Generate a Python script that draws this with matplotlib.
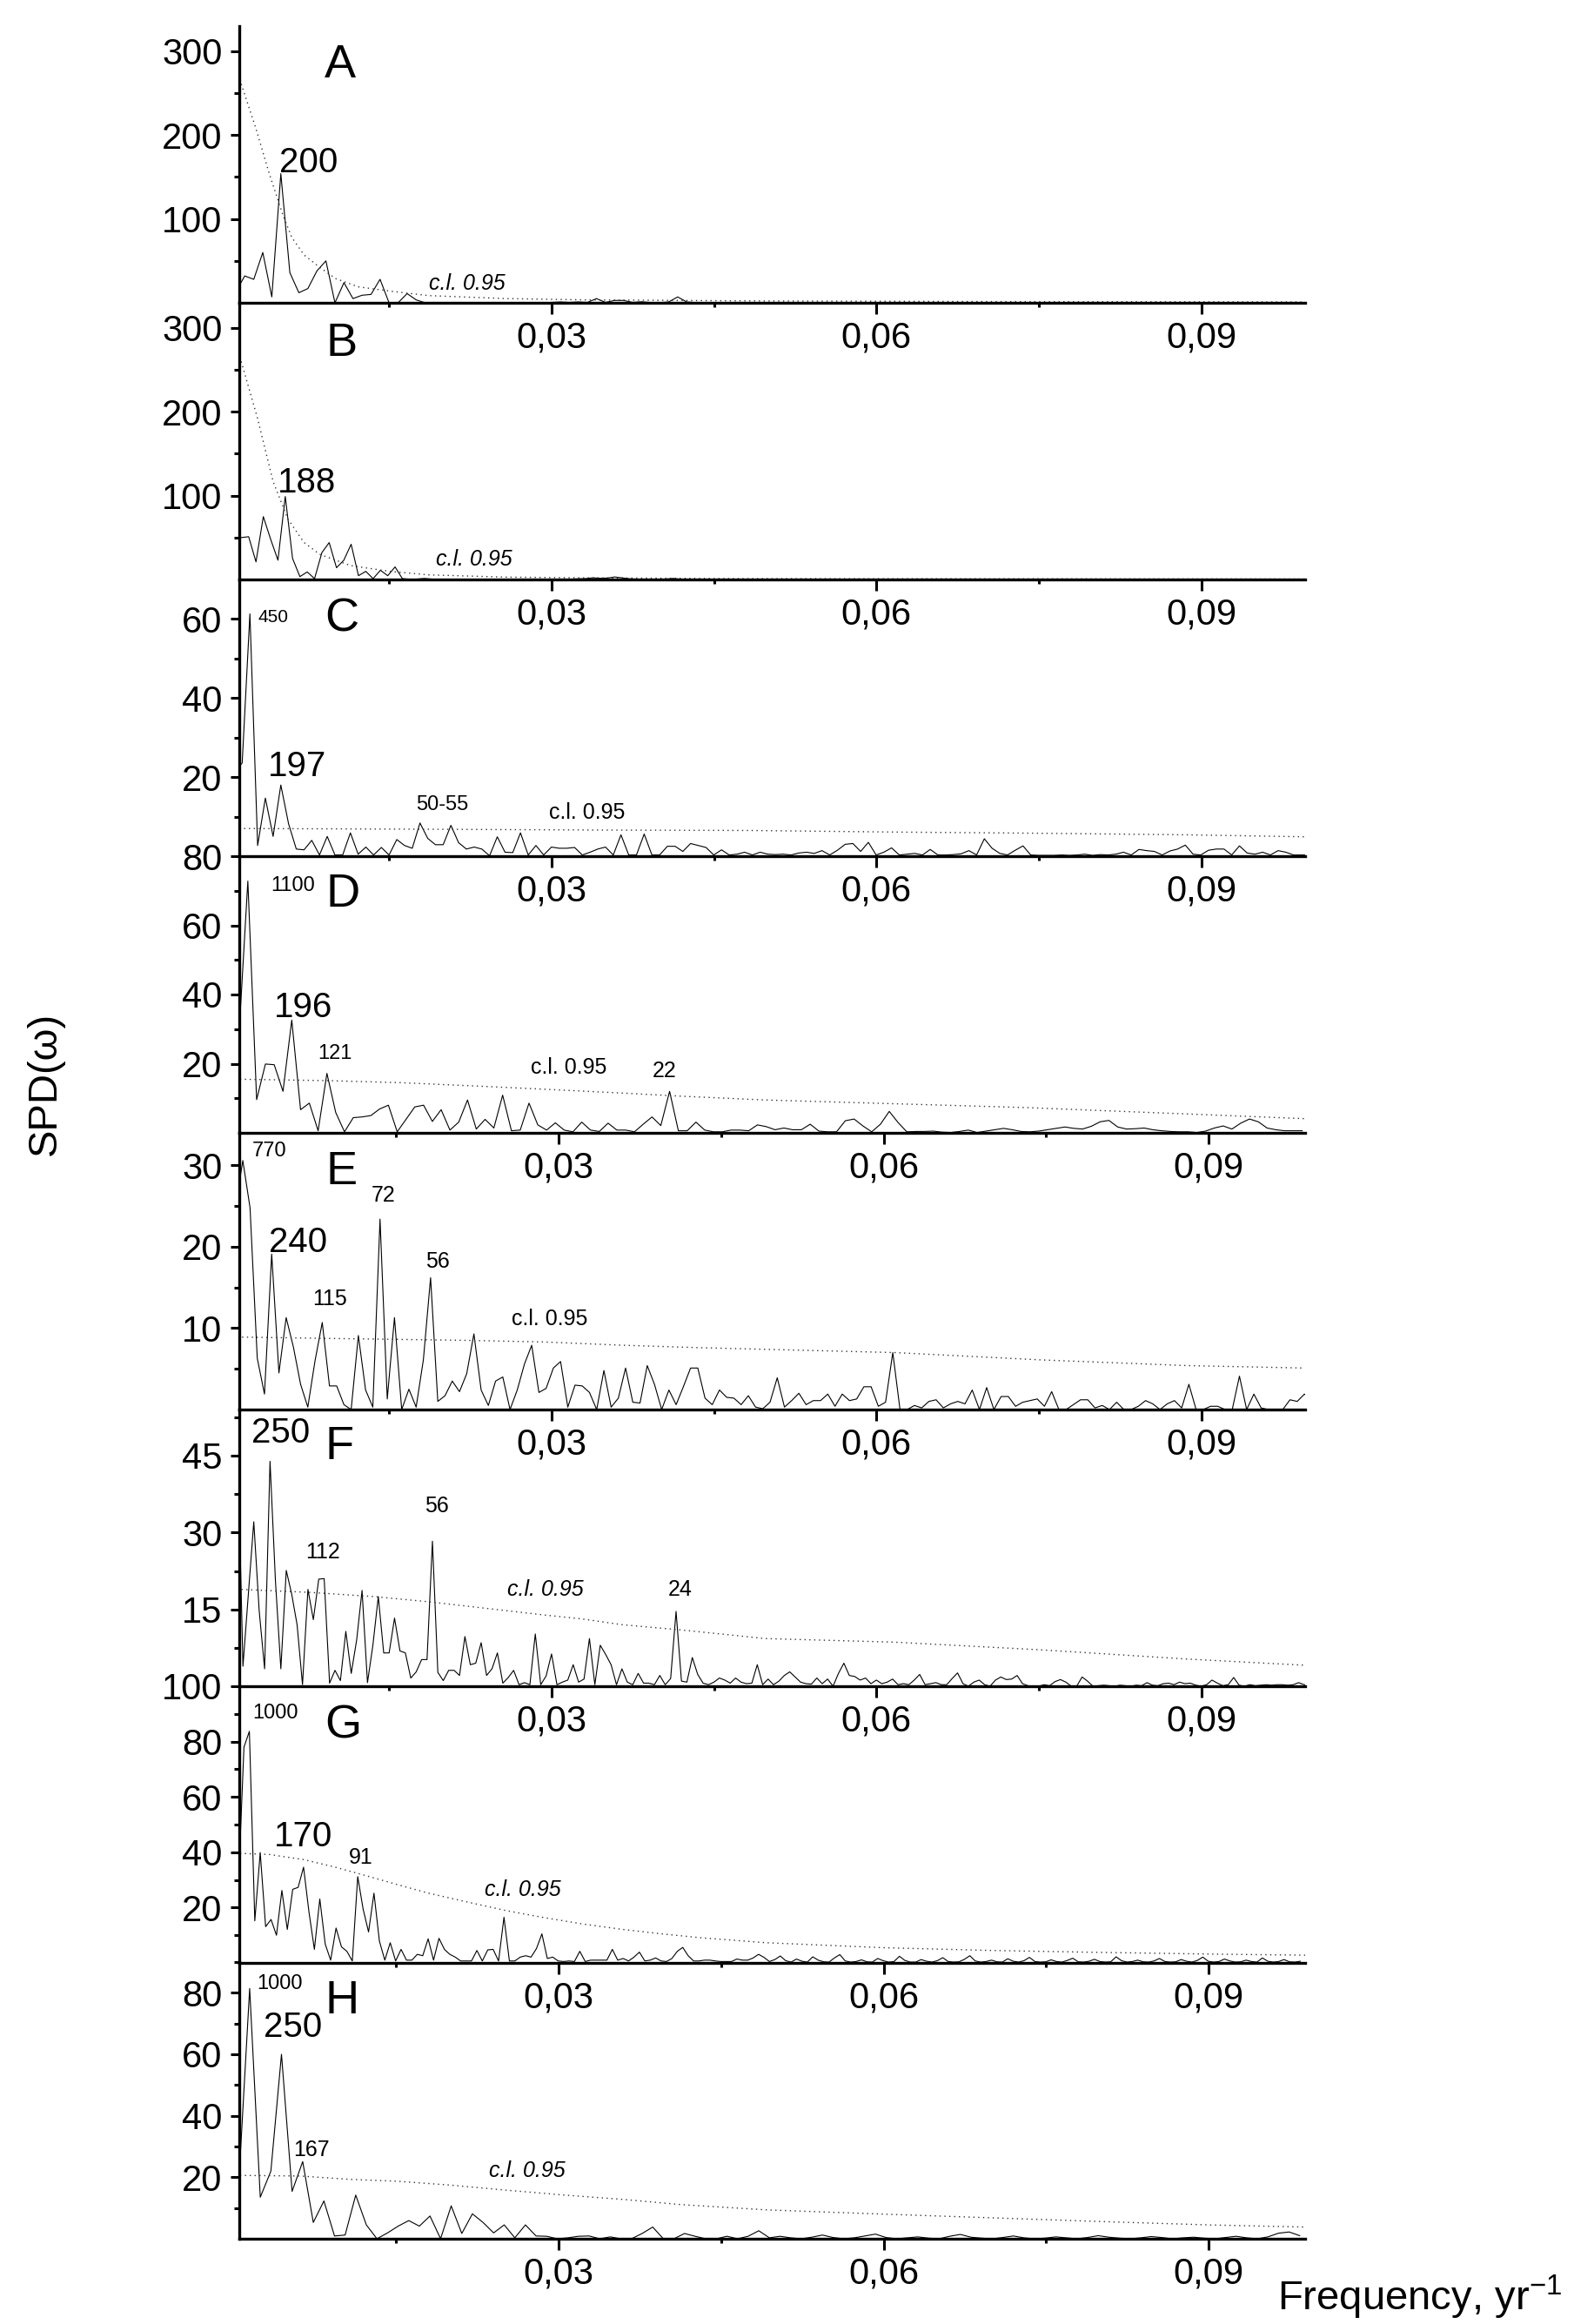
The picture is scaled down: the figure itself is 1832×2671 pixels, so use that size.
import numpy as np
import matplotlib
matplotlib.use("Agg")
import matplotlib.pyplot as plt

plt.rcParams["font.family"] = ["Liberation Sans", "DejaVu Sans"]
plt.rcParams["mathtext.fontset"] = "custom"
plt.rcParams["mathtext.rm"] = "Liberation Sans"

# spectral density of each series, evenly spaced in frequency (yr^-1)
spd_a = [13, 32, 28, 60, 7, 154, 36, 12, 17, 38, 50, 0, 24, 5, 9, 10, 28, 0, 0, 11,
         3.5, 0, 0.5, 0.3, 0.5, 0.3, 0.2, 0.3, 0.2, 0.3, 0.2, 0.3, 0.2, 0.3, 0.2, 0.5,
         1, 0.5, 1, 0.5, 5, 0.5, 2.8, 2.8, 0.5, 1.2, 0.3, 0.2, 1, 7, 1, 0.3, 0.2, 0.3,
         0.2, 0.3, 0.2, 0.3, 0.2, 0.3]
spd_b = [50, 50, 51, 21, 75, 48, 23, 99, 25, 3.4, 9, 1, 32, 44, 14, 23, 42, 4.5, 9.7, 1,
         11, 4.5, 15, 1, 0.3, 0.5, 1.2, 0.5, 0.2, 0.3, 0.2, 0.3, 0.2, 0.2, 0.3, 0.2, 0.2,
         0.3, 0.2, 0.2, 0.3, 0.2, 0.2, 0.3, 0.2, 0.5, 0.4, 0.8, 1, 2, 1.5, 1.7, 3, 2, 0.8,
         0.5, 0.3, 0.2, 0.3, 0.5, 1.2, 0.4, 0.2, 0.2, 0.3, 0.2, 0.2, 0.1, 0.2, 0.1]
spd_c = [21, 23.6, 61.3, 2.7, 14.7, 5, 18, 8.2, 1.8, 1.6, 4, 0.3, 5, 0.3, 0.3, 5.9, 0.5,
         2.3, 0.3, 2.2, 0.3, 4.2, 2.7, 2, 8.4, 4.5, 2.9, 2.9, 7.8, 3.4, 1.8, 2.3, 1.8, 0.1,
         4.9, 1, 0.9, 5.9, 0.3, 2.7, 0.3, 2.3, 2, 2, 2.2, 0.3, 1, 1.8, 2.3, 0.3, 5.4, 0.3,
         0.3, 5.6, 0.3, 0.3, 2.5, 2.5, 1.2, 3.2, 2.7, 2.2, 0.3, 1.6, 0.3, 0.5, 1, 0.3, 1,
         0.5, 0.4, 0.5, 0.3, 0.8, 1, 0.7, 1.4, 0.3, 1.5, 3, 3.2, 1.2, 3.5, 0.3, 1, 2.1,
         0.3, 0.5, 0.7, 0.3, 1.7, 0.3, 0.3, 0.4, 0.6, 1.4, 0.3, 4.4, 2, 0.7, 0.3, 1.5,
         2.6, 0.3, 0.2, 0.2, 0.2, 0.3, 0.2, 0.3, 0.5, 0.2, 0.4, 0.3, 0.5, 1, 0.3, 1.7,
         1.4, 1.2, 0.3, 1.3, 1.8, 2.8, 0.5, 0.3, 1.5, 1.8, 1.8, 0.3, 2.6, 0.8, 0.5, 1,
         0.3, 1.4, 1, 0.3, 0.3, 0.3]
spd_d = [28.9, 72.8, 9.6, 19.9, 19.7, 12, 32.6, 6.7, 8.6, 0.6, 17.2, 5.9, 0.3, 4.4, 4.6,
         5, 6.9, 8, 0.3, 3.9, 7.5, 8, 3.3, 6.7, 0.8, 3.1, 9.5, 1.1, 3.9, 1.4, 10.9, 0.6,
         0.8, 8.6, 2.3, 0.8, 2.9, 0.8, 0.3, 3.1, 0.8, 0.4, 2.8, 0.8, 0.8, 0.3, 2.5, 4.6,
         2.1, 12, 0.6, 0.6, 3.1, 0.8, 0.3, 0.3, 0.8, 0.8, 0.6, 2.3,
         1.8, 0.9, 1.4, 0.9, 0.9, 2.5, 0.5, 0.3, 0.3, 3.5, 4, 2, 0.3, 2.5, 6.2, 3, 0.3,
         0.4, 0.4, 0.5, 0.2, 0.1, 0.4, 0.8, 0.1, 0.5, 0.9, 1.3, 0.9, 0.4, 0.3, 0.5, 0.9,
         1.3, 1.7, 1.3, 1.1, 1.9, 3.2, 3.6, 1.7, 1.1, 1.2, 1.4, 0.9, 0.6, 0.4, 0.3, 0.3,
         0.1, 0.5, 1.4, 2, 1.1, 2.8, 4, 3.2, 1.4, 0.9, 0.6, 0.6, 0.6]
spd_e = [25, 30.6, 24.8, 6.3, 1.9, 19.1, 4.5, 11.3, 7.7, 3.1, 0.3, 6, 10.7, 2.9, 2.9,
         0.6, 0, 9.1, 2.4, 0.3, 23.4, 1.3, 11.3, 0, 2.5, 0.3, 6.1, 16.2, 1, 1.7, 3.5, 2.2,
         4.4, 9.3, 2.4, 0.5, 3.5, 4, 0, 2.4, 5.6, 7.9, 2.1, 2.6, 5.1, 5.9, 0.3, 3, 2.9,
         2.1, 0, 4.8, 0.3, 1.4, 5.1, 0.9, 0.8, 5.4, 3.1, 0, 2.4, 0.6, 2.8, 5.1, 5.1, 1.4,
         0.6, 2.4, 1.5, 1.4, 0.6, 1.7, 0.3, 0.1,
         0.9, 3.9, 0.3, 1.1, 2, 0.6, 1.1, 1.1, 1.9, 0.4, 1.9, 1.1, 1.3, 2.8, 2.8, 0.4, 0.9,
         7, 0, 0, 0.5, 0.2, 1, 1.2, 0.2, 0.7, 1, 0.7, 2.4, 0, 2.7, 0, 1.6, 1.6, 0.4, 0.9,
         1.1, 1.3, 0.4, 2.2, 0, 0, 0.6, 1.2, 1.2, 0.2, 0.5, 0, 0.9, 0, 0, 0.4, 1.1, 0.7,
         0, 0.7, 1.1, 0.2, 3.1, 0, 0, 0.4, 0.4, 0, 0, 4.1, 0, 1.9, 0.2, 0, 0, 0, 1.2, 1,
         1.9, 1.1]
spd_f = [30, 48, 3.9, 18, 32.1, 14.7, 3.4, 43.9, 20.6, 3.4, 22.6, 18, 12, 0.3, 18.9, 13,
         20.9, 21, 0.6, 3.1, 1.1, 10.7, 2.5, 9, 18.7, 0.7, 8, 17.5, 6.5, 6.5, 13.3, 6.9,
         6.5, 1.6, 2.8, 5.2, 5.2, 28.3, 2.7, 1.1, 3.1, 3.1, 2.1, 9.7, 4.2, 4.5, 8.5, 2.1,
         3.4, 6.5, 0.6, 1.7, 3.1, 0.3, 0.7, 0.3, 10.2, 0.3, 2, 6.3, 0.3, 0.8, 1.2, 4.2,
         0.8, 1.4, 9.3, 0.3, 8, 6.2, 4.2, 0.3, 3.4, 0.8, 0.3, 2.5, 0.6, 0.6, 0.3, 2.1,
         0.3, 1.5, 14.6, 1, 0.8, 5.6, 2.3, 0.6, 0.3, 0.8, 1.6, 1.2, 0.6, 1.6, 0.8, 0.5,
         0.6, 4.2, 0.3,
         1.4, 0.3, 1, 2.1, 2.8, 1.8, 0.8, 0.5, 0.4, 1.6, 0.5, 1.4, 0, 2.5, 4.5, 2.1, 1.9,
         1.2, 1.6, 0.5, 1.2, 0.5, 0.8, 1.4, 0.3, 0.5, 0.3, 1.2, 2.3, 0.3, 0.5, 0.7, 0.3,
         0.3, 1.5, 2.6, 0.5, 0, 0.8, 1.2, 0.3, 0, 1.2, 1.8, 1.3, 1.4, 2.1, 0.5, 0.1, 0,
         0, 0.3, 0.1, 0.9, 1.3, 0.8, 0, 0, 1.8, 1, 0, 0.1, 0.2, 0.1, 0, 0.2, 0.1, 0, 0.2,
         0.1, 0.7, 0.2, 0.1, 0.5, 0.6, 0.3, 0.8, 0.5, 0.6, 0.2, 0, 0.3, 1.2, 0.6, 0.1,
         0.3, 1.7, 0.2, 0, 0.3, 0.1, 0.2, 0.3, 0.2, 0.3, 0.3, 0.2, 0.3, 0.7, 0.3, 0.2]
spd_g = [30, 78, 83.7, 15.2, 39.9, 13.1, 15.7, 10, 26.2, 12.1, 26.6, 27.3, 34.6, 18.4,
         4.9, 23.1, 6.8, 1, 12.6, 5.8, 4.2, 0.7, 31.2, 19.4, 11.2, 25.2, 7.9, 1, 7.3,
         0.7, 4.9, 1, 1, 3.1, 2.6, 8.7, 1, 8.9, 4.9, 3.1, 2.1, 0.7, 0.7, 0.7, 4.5, 0.7,
         4.7, 4.9, 0.7, 16.5, 0.7, 0.7, 2.1, 2.6, 2.1, 5.2, 10.5, 1.6, 2.1, 0.7, 0.5,
         0.7, 0.5, 4.2, 0.5, 1, 1, 1, 1, 4.9, 1, 1.6, 0.7, 2.1, 3.9, 0.7, 1, 1.8, 0.7,
         0.5, 1.6, 4.2, 5.6, 2.6, 0.7, 0.7, 1, 1, 0.7, 0.5, 0.5, 0.5, 1.4, 1, 1, 1.8,
         3.1, 2,
         0.5, 1.2, 2.5, 0.8, 0.3, 1.4, 0.6, 0.3, 2.2, 1.0, 0.4, 0.3, 1.8, 3.0, 0.7, 0.3,
         0.5, 1.1, 0.4, 0.3, 1.6, 0.8, 0.3, 0.5, 2.4, 0.9, 0.3, 0.3, 1.2, 0.6, 0.3, 0.8,
         1.9, 0.5, 0.3, 0.4, 1.3, 2.6, 0.7, 0.3, 0.5, 1.0, 0.4, 0.3, 1.5, 0.6, 0.3, 0.8,
         2.0, 0.5, 0.3, 0.4, 1.1, 0.5, 0.3, 0.9, 1.7, 0.4, 0.3, 0.6, 1.3, 0.5, 0.3, 0.4,
         2.2, 0.8, 0.3, 0.5, 1.0, 0.4, 0.3, 0.7, 1.6, 0.5, 0.3, 0.4, 1.2, 0.6, 0.3, 0.9,
         2.1, 0.6, 0.3, 0.5, 1.4, 0.7, 0.3, 0.4, 1.0, 0.5, 0.3, 1.8, 0.6, 0.3, 0.5, 1.2,
         0.4, 0.3, 0.6]
spd_h = [20, 81.4, 13.5, 22, 60, 15.4, 25.1, 5.3, 12.3, 0.9, 1.2, 14.2, 4.5, 0, 1.9,
         4.1, 5.9, 4.1, 7.4, 0, 10.7, 1.7, 8.1, 5.3, 1.9, 4.5, 0.3, 4.5, 0.9, 0.8, 0, 0.3,
         0.8, 0.9, 0, 0.6, 0, 0, 1.7, 3.8, 0, 0, 1.7, 0.8, 0, 0, 0.8, 0, 0.8, 2.6,
         0.3, 0.8, 0.3, 0, 0.5, 1.2, 0.4, 0, 0.3, 0.9, 1.5, 0.4, 0, 0.3, 0.6, 0.2, 0, 0.8,
         1.4, 0.5, 0.2, 0, 0.4, 0.9, 0.3, 0, 0.2, 0.6, 0.3, 0, 0.4, 1.0, 0.5, 0.2, 0, 0.3,
         0.7, 0.4, 0, 0.3, 0.5, 0.2, 0, 0.4, 0.8, 0.3, 0, 0.6, 1.8, 2.2, 1.0]

# first frequency and frequency step of each spectrum, panels A..H
freq_start = [0.000833, 0.000676, 0.000714, 0.0005, 0.00082, 0.0005, 0.000453, 0.0005]
freq_step = [0.000833, 0.000676, 0.000714, 0.000811, 0.000667, 0.0005, 0.0005, 0.000979]

# 0.95 confidence level curves
cl_freq_a = [0.00134, 0.00267, 0.00393, 0.00518, 0.00601, 0.00715, 0.00852, 0.01003,
             0.01218, 0.01505, 0.01863, 0.02581, 0.03298, 0.04976, 0.07, 0.0996]
cl_val_a = [261, 209, 154, 105, 78, 57, 43, 29, 19, 14, 8.6, 5, 3.5, 2.2, 1.5, 1.0]
cl_freq_b = [0.00134, 0.00285, 0.00428, 0.00565, 0.00715, 0.00859, 0.01146, 0.01505,
             0.01863, 0.02581, 0.03298, 0.04732, 0.07, 0.0996]
cl_val_b = [260, 192, 117, 72, 44, 30, 16.5, 9.7, 5.5, 2.8, 2, 1, 0.8, 0.5]
cl_freq_c = [0.00116, 0.0198, 0.035, 0.0482, 0.0617, 0.075, 0.0887, 0.0996]
cl_val_c = [7.0, 6.8, 6.6, 6.5, 6.1, 5.8, 5.4, 4.9]
cl_freq_d = [0.00059, 0.00866, 0.01547, 0.02337, 0.02875, 0.03592, 0.0413, 0.04912,
             0.07322, 0.0989]
cl_val_d = [15.5, 15.1, 14.5, 13.4, 12.6, 11.5, 10.6, 9.5, 7.3, 4.1]
cl_freq_e = [0.00142, 0.01146, 0.02222, 0.02939, 0.03656, 0.04374, 0.04976, 0.06169,
             0.07521, 0.08873, 0.09955]
cl_val_e = [8.9, 8.7, 8.5, 8.3, 7.9, 7.6, 7.4, 7.0, 6.1, 5.4, 5.1]
cl_freq_f = [0.00136, 0.00782, 0.01356, 0.01859, 0.02397, 0.02935, 0.03294, 0.03653,
             0.04191, 0.04974, 0.06169, 0.07521, 0.08873, 0.09955]
cl_val_f = [18.9, 18.3, 17.5, 16.5, 15.2, 13.9, 13.1, 12.0, 11.0, 9.3, 8.6, 7.1, 5.3, 4.1]
cl_freq_g = [0.00059, 0.00328, 0.00651, 0.00938, 0.01225, 0.01512, 0.01799, 0.02158,
             0.02516, 0.02875, 0.03234, 0.03592, 0.03951, 0.0431, 0.04912, 0.06, 0.07,
             0.08, 0.09, 0.0989]
cl_val_g = [39.6, 39.2, 37.3, 34.6, 31.5, 28.3, 25.2, 22, 18.9, 16.3, 14, 12.1, 10.5,
            9.1, 7.3, 5.5, 4.5, 3.8, 3.2, 2.8]
cl_freq_h = [0.00059, 0.00615, 0.01081, 0.01512, 0.01978, 0.02516, 0.03054, 0.03592,
             0.0413, 0.04912, 0.06, 0.07, 0.08, 0.09, 0.0989]
cl_val_h = [20.6, 20.4, 19.3, 18.7, 17.5, 15.8, 14.2, 12.8, 11.1, 9.4, 8.0, 6.8, 5.6,
            4.5, 3.8]

panel_names = ["A", "B", "C", "D", "E", "F", "G", "H"]
y_top = [330, 330, 70, 80, 34, 54, 100, 90]
y_major = [[100, 200, 300], [100, 200, 300], [20, 40, 60], [20, 40, 60, 80],
           [10, 20, 30], [15, 30, 45], [20, 40, 60, 80, 100], [20, 40, 60, 80]]
y_minor = [[50, 150, 250], [50, 150, 250], [10, 30, 50], [10, 30, 50, 70],
           [5, 15, 25], [7.5, 22.5, 37.5, 52.5], [10, 30, 50, 70, 90],
           [10, 30, 50, 70, 90]]
x_ticks = [0.03, 0.06, 0.09]
x_tick_labels = ["0,03", "0,06", "0,09"]

# peak labels: (text, x, y in axes fraction, size)
peak_labels = [
    [("200", 0.065, 0.505, 29)],
    [("188", 0.063, 0.349, 29)],
    [("450", 0.032, 0.862, 15), ("197", 0.054, 0.325, 29), ("50-55", 0.190, 0.186, 17)],
    [("1100", 0.050, 0.893, 17), ("196", 0.060, 0.453, 29), ("121", 0.090, 0.287, 17),
     ("22", 0.399, 0.223, 18)],
    [("770", 0.028, 0.935, 17), ("72", 0.135, 0.774, 18), ("240", 0.055, 0.603, 29),
     ("56", 0.186, 0.534, 18), ("115", 0.085, 0.398, 18)],
    [("250", 0.039, 0.914, 29), ("56", 0.185, 0.651, 18), ("112", 0.078, 0.483, 18),
     ("24", 0.414, 0.349, 18)],
    [("1000", 0.034, 0.902, 17), ("170", 0.060, 0.457, 29), ("91", 0.114, 0.380, 18)],
    [("1000", 0.038, 0.921, 17), ("250", 0.050, 0.764, 29), ("167", 0.068, 0.320, 18)],
]
cl_label_pos = [(0.214, 0.070), (0.220, 0.072), (0.326, 0.157), (0.309, 0.237),
                (0.291, 0.327), (0.287, 0.350), (0.266, 0.263), (0.270, 0.245)]
cl_italic = [True, True, False, False, False, True, True, True]
letter_pos = [(0.095, 0.858), (0.096, 0.852), (0.096, 0.856), (0.097, 0.862),
              (0.096, 0.857), (0.094, 0.865), (0.097, 0.858), (0.096, 0.858)]
shifted = [False, False, False, True, False, False, True, True]

spds = [spd_a, spd_b, spd_c, spd_d, spd_e, spd_f, spd_g, spd_h]
cl_freqs = [cl_freq_a, cl_freq_b, cl_freq_c, cl_freq_d, cl_freq_e, cl_freq_f, cl_freq_g, cl_freq_h]
cl_vals = [cl_val_a, cl_val_b, cl_val_c, cl_val_d, cl_val_e, cl_val_f, cl_val_g, cl_val_h]

W, H = 1833, 2671
fig = plt.figure(figsize=(W / 100, H / 100), dpi=100)
fig.patch.set_facecolor("white")

left_px, right_px = 275, 1500
bottoms_px = [348, 666, 984, 1302, 1620, 1938, 2256, 2573]
panel_h = 318

for i in range(8):
    ax = fig.add_axes([left_px / W, 1 - bottoms_px[i] / H,
                       (right_px - left_px) / W, panel_h / H])
    ax.patch.set_visible(False)
    freqs = freq_start[i] + freq_step[i] * np.arange(len(spds[i]))
    ax.plot(freqs, spds[i], color="black", lw=0.8)
    ax.plot(cl_freqs[i], cl_vals[i], color="#333333", lw=1.0, linestyle=(0, (1, 3)))

    if shifted[i]:
        ax.set_xlim(0.00052, 0.0989)
    else:
        ax.set_xlim(0.00116, 0.0996)
    ax.set_ylim(0, y_top[i])

    for s in ["top", "right"]:
        ax.spines[s].set_visible(False)
    for s in ["left", "bottom"]:
        ax.spines[s].set_linewidth(2.4)

    ax.set_xticks(x_ticks, x_tick_labels)
    ax.set_xticks([0.015, 0.045, 0.075], minor=True)
    ax.set_yticks(y_major[i])
    ax.set_yticks(y_minor[i], minor=True)
    ax.tick_params(axis="x", which="major", direction="out", length=9, width=2.2,
                   labelsize=30, pad=6)
    ax.tick_params(axis="x", which="minor", direction="out", length=3.5, width=2.2)
    ax.tick_params(axis="y", which="major", direction="out", length=7, width=2.2,
                   labelsize=30, pad=7)
    ax.tick_params(axis="y", which="minor", direction="out", length=4.3, width=2.2)

    lx, ly = letter_pos[i]
    ax.text(lx, ly, panel_names[i], transform=ax.transAxes, fontsize=39,
            ha="center", va="center")
    for txt, tx, ty, sz in peak_labels[i]:
        ax.text(tx, ty, txt, transform=ax.transAxes, fontsize=sz,
                ha="center", va="center")
    cx, cy = cl_label_pos[i]
    ax.text(cx, cy, "c.l. 0.95", transform=ax.transAxes, fontsize=18,
            ha="center", va="center", style="italic" if cl_italic[i] else "normal")

fig.text(52 / W, 1 - 1245 / H, "SPD(ω)", rotation=90, fontsize=34,
         ha="center", va="center")
fig.text(1468 / W, 1 - 2640 / H, "Frequency, yr$^{\\mathregular{-1}}$", fontsize=34,
         ha="left", va="center")

fig.savefig("out.png", dpi=100)
